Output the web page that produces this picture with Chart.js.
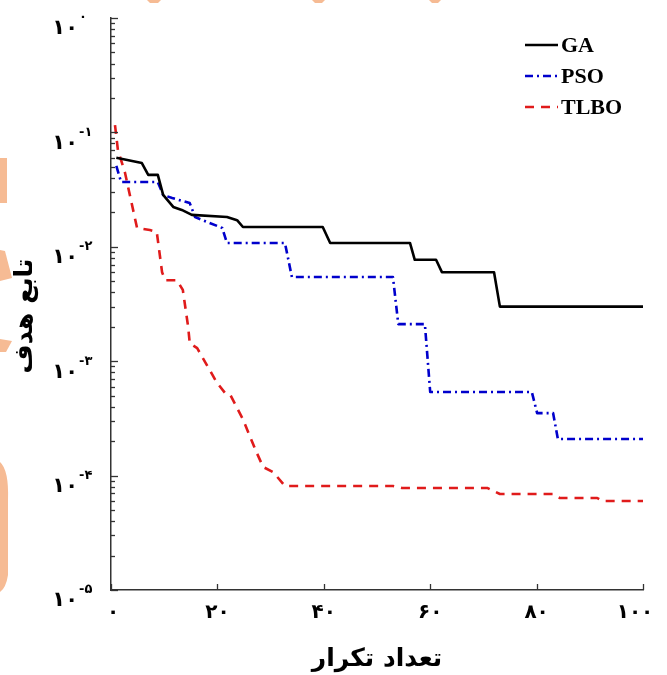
<!DOCTYPE html>
<html>
<head>
<meta charset="utf-8">
<script src="https://cdn.jsdelivr.net/npm/chart.js@4.4.1/dist/chart.umd.min.js"></script>
<style>
  html, body { margin: 0; padding: 0; background: #fff; }
  #wrap { width: 667px; height: 675px; }
</style>
</head>
<body>
<div id="wrap"><canvas id="convChart" width="667" height="675"></canvas></div>
<script>
// data (iteration, objective value)
const gaIter = [1, 5.8, 7, 8.8, 9.8, 11.7, 13.3, 15.2, 21.8, 23.7, 24.8, 39.8, 41.2, 56.2, 57.1, 61.1, 62.2, 72, 73.1, 100];
const gaValue = [0.060, 0.054, 0.0425, 0.0425, 0.0284, 0.0223, 0.021, 0.019, 0.0182, 0.0171, 0.0149, 0.0149, 0.0108, 0.0108, 0.0077, 0.0077, 0.0060, 0.0060, 0.0030, 0.0030];

const psoIter = [1, 1.9, 8.8, 9.8, 11.5, 14.8, 15.8, 20.9, 21.8, 32.7, 34, 53, 54, 59, 60, 79.1, 80.1, 83.1, 84, 100];
const psoValue = [0.051, 0.0368, 0.0368, 0.0284, 0.0267, 0.0241, 0.0182, 0.0146, 0.0108, 0.0108, 0.00544, 0.00544, 0.00211, 0.00211, 0.000538, 0.000538, 0.000352, 0.000352, 0.000209, 0.000209];

const tlboIter = [0.75, 1.3, 2.6, 4.9, 7.3, 8.6, 9.6, 10.2, 12.4, 13.5, 14.5, 14.8, 16.2, 19.9, 21.4, 22.4, 24.8, 27.4, 28.6, 30.5, 32.7, 53, 54.7, 70.7, 73.1, 83.1, 84.4, 91.4, 92.3, 100];
const tlboValue = [0.116, 0.070, 0.045, 0.0146, 0.0140, 0.0135, 0.0060, 0.0051, 0.0051, 0.0042, 0.0020, 0.00144, 0.0013, 0.00065, 0.00053, 0.00051, 0.00031, 0.000158, 0.000119, 0.000107, 0.0000811, 0.0000811, 0.000078, 0.000078, 0.000069, 0.000069, 0.0000637, 0.0000637, 0.000060, 0.000060];

// tick labels (persian digits)
const xTicks = [0, 20, 40, 60, 80, 100];
const xTickLabels = ['۰', '۲۰', '۴۰', '۶۰', '۸۰', '۱۰۰'];
const yDecades = [0, -1, -2, -3, -4, -5];
const yExpLabels = ['۰', '-۱', '-۲', '-۳', '-۴', '-۵'];

const xTitle = 'تعداد تکرار';
const yTitle = 'تابع هدف';

function toPoints(xs, ys) {
    return xs.map((x, i) => ({ x: x, y: ys[i] }));
}

// orange watermark bits behind the chart
const watermark = {
    id: 'watermark',
    beforeDraw(chart) {
        const ctx = chart.ctx;
        ctx.save();
        ctx.fillStyle = 'rgb(246,187,148)';
        const polys = [
            [[147, 0], [161, 0], [158, 3], [150, 3]],
            [[312, 0], [325, 0], [322, 3], [315, 3]],
            [[429, 0], [441, 0], [438, 3], [432, 3]],
            [[0, 158], [7, 158], [7, 203], [0, 203]],
            [[0, 250], [5, 251], [12, 278], [0, 281]],
            [[0, 339], [12, 341], [6, 352], [0, 352]]
        ];
        polys.forEach(p => {
            ctx.beginPath();
            ctx.moveTo(p[0][0], p[0][1]);
            for (let i = 1; i < p.length; i++) ctx.lineTo(p[i][0], p[i][1]);
            ctx.closePath();
            ctx.fill();
        });
        // rounded piece lower left
        ctx.beginPath();
        ctx.moveTo(0, 462);
        ctx.quadraticCurveTo(9, 470, 8, 500);
        ctx.lineTo(8, 575);
        ctx.quadraticCurveTo(6, 588, 0, 592);
        ctx.closePath();
        ctx.fill();
        ctx.restore();
    }
};

// axis ticks (inward), tick labels, titles and legend
const decorations = {
    id: 'decorations',
    afterDraw(chart) {
        const ctx = chart.ctx;
        const xs = chart.scales.x;
        const ys = chart.scales.y;
        const left = chart.chartArea.left;
        const bottom = chart.chartArea.bottom;
        ctx.save();
        ctx.strokeStyle = '#333';
        ctx.lineWidth = 1.3;

        // y log ticks
        for (let d = -5; d <= 0; d++) {
            for (let m = 1; m <= 9; m++) {
                if (d === 0 && m > 1) break;
                const v = m * Math.pow(10, d);
                const py = Math.round(ys.getPixelForValue(v)) + 0.5;
                const len = m === 1 ? 7 : 4;
                ctx.beginPath();
                ctx.moveTo(left, py);
                ctx.lineTo(left + len, py);
                ctx.stroke();
            }
        }
        // x ticks
        xTicks.forEach(t => {
            const px = Math.round(xs.getPixelForValue(t)) + 0.5;
            ctx.beginPath();
            ctx.moveTo(px, bottom);
            ctx.lineTo(px, bottom - 6);
            ctx.stroke();
        });

        ctx.fillStyle = '#000';
        // x tick labels
        ctx.font = 'bold 20px "DejaVu Sans"';
        ctx.textAlign = 'center';
        ctx.textBaseline = 'middle';
        xTicks.forEach((t, i) => {
            const px = xs.getPixelForValue(t) + (i === 0 ? 2 : 0);
            ctx.fillText(xTickLabels[i], px - (i === xTicks.length - 1 ? 8 : 0), bottom + 23);
        });

        // y tick labels: 10 with superscript exponent
        yDecades.forEach((d, i) => {
            const py = ys.getPixelForValue(Math.pow(10, d));
            ctx.font = 'bold 21px "DejaVu Sans"';
            ctx.letterSpacing = '-3px';
            ctx.textAlign = 'right';
            ctx.textBaseline = 'middle';
            ctx.fillText('۱۰', 78, py + 11);
            ctx.font = 'bold 13px "DejaVu Sans"';
            ctx.letterSpacing = '0px';
            ctx.textAlign = 'left';
            ctx.fillText(yExpLabels[i], 79, py);
        });

        // axis titles
        ctx.font = 'bold 25px "DejaVu Sans"';
        ctx.textAlign = 'center';
        ctx.textBaseline = 'middle';
        ctx.fillText(xTitle, (xs.left + xs.right) / 2, 659);
        ctx.save();
        ctx.translate(25, 316);
        ctx.rotate(-Math.PI / 2);
        ctx.fillText(yTitle, 0, 0);
        ctx.restore();

        // legend top right
        ctx.font = 'bold 22px "Liberation Serif"';
        ctx.textAlign = 'left';
        ctx.textBaseline = 'middle';
        chart.data.datasets.forEach((ds, i) => {
            const ly = 45 + i * 31;
            ctx.save();
            ctx.strokeStyle = ds.borderColor;
            ctx.lineWidth = ds.borderWidth;
            ctx.setLineDash(ds.borderDash || []);
            ctx.beginPath();
            ctx.moveTo(525, ly);
            ctx.lineTo(558, ly);
            ctx.stroke();
            ctx.restore();
            ctx.fillText(ds.label, 561, ly + 1);
        });
        ctx.restore();
    }
};

new Chart(document.getElementById('convChart'), {
    type: 'line',
    data: {
        datasets: [
            {
                label: 'GA',
                data: toPoints(gaIter, gaValue),
                borderColor: '#000000',
                borderWidth: 2.6
            },
            {
                label: 'PSO',
                data: toPoints(psoIter, psoValue),
                borderColor: '#0000cc',
                borderWidth: 2.6,
                borderDash: [8, 4, 2, 4]
            },
            {
                label: 'TLBO',
                data: toPoints(tlboIter, tlboValue),
                borderColor: '#e01b1b',
                borderWidth: 2.6,
                borderDash: [9, 7]
            }
        ]
    },
    options: {
        responsive: false,
        animation: false,
        layout: { padding: { left: 111, top: 18, right: 24, bottom: 85 } },
        elements: {
            point: { radius: 0 },
            line: { tension: 0, fill: false, borderJoinStyle: 'round' }
        },
        plugins: {
            legend: { display: false },
            tooltip: { enabled: false }
        },
        scales: {
            x: {
                type: 'linear',
                min: 0,
                max: 100,
                ticks: { display: false },
                grid: { display: false, drawTicks: false },
                border: { display: true, color: '#333', width: 1.5 }
            },
            y: {
                type: 'logarithmic',
                min: 1e-5,
                max: 1,
                ticks: { display: false },
                grid: { display: false, drawTicks: false },
                border: { display: true, color: '#333', width: 1.5 }
            }
        }
    },
    plugins: [watermark, decorations]
});
</script>
</body>
</html>
